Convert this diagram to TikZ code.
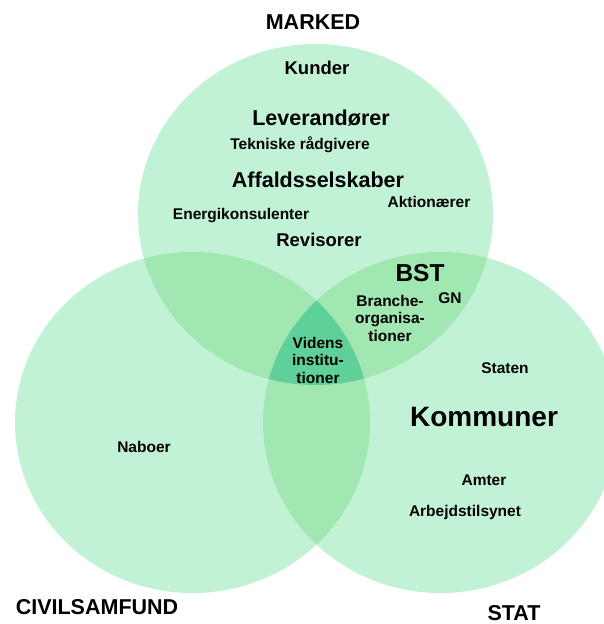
\documentclass[tikz,border=0pt]{standalone}
\usepackage{fontspec}
\setmainfont{Liberation Sans}
\begin{document}
\definecolor{one}{RGB}{193,242,214}
\definecolor{two}{RGB}{161,231,177}
\definecolor{three}{RGB}{96,208,154}
\begin{tikzpicture}[x=1pt,y=-1pt,
  lbl/.style={anchor=base,font=\bfseries\fontsize{#1}{#1}\selectfont,inner sep=0pt,align=center},
  lbl/.default=15.5,
  multi/.style={anchor=base,font=\bfseries\fontsize{15.5}{17.5}\selectfont,inner sep=0pt,align=center}]
\useasboundingbox (0,0) rectangle (604,624);
\clip (0,0) rectangle (604,624);
% three sets
\def\setM{(315.5,214.5) ellipse [x radius=177.5, y radius=170.5]}
\def\setC{(192.5,422.5) ellipse [x radius=177.5, y radius=170.5]}
\def\setS{(440.5,422.5) ellipse [x radius=177.5, y radius=170.5]}
\fill[one] \setM;
\fill[one] \setC;
\fill[one] \setS;
% pairwise overlaps
\begin{scope}\clip \setM; \fill[two] \setC; \fill[two] \setS;\end{scope}
\begin{scope}\clip \setC; \fill[two] \setS;\end{scope}
% common core
\begin{scope}\clip \setM; \clip \setC; \fill[three] \setS;\end{scope}
% set titles
\node[lbl=21.5] (marked) at (313,29) {MARKED};
\node[lbl=21.5] (civil) at (97,614) {CIVILSAMFUND};
\node[lbl=21.5] (stat) at (514,620) {STAT};
% market
\node[lbl=18.5] (kunder) at (317,74) {Kunder};
\node[lbl=21.5] (lev) at (321,125) {Leverandører};
\node[lbl] (tek) at (300,149) {Tekniske rådgivere};
\node[lbl=21.5] (affald) at (318,187) {Affaldsselskaber};
\node[lbl] (aktion) at (429,207) {Aktionærer};
\node[lbl] (energi) at (241,219) {Energikonsulenter};
\node[lbl=18.5] (revis) at (319,246) {Revisorer};
% market and state (base anchor sits on the last line)
\node[lbl=24.5] (bst) at (420,281) {BST};
\node[lbl] (gn) at (450,303) {GN};
\node[multi] (branche) at (390,341) {Branche-\\organisa-\\tioner};
% all three
\node[multi] (videns) at (318,383) {Videns\\institu-\\tioner};
% state
\node[lbl] (staten) at (505,373) {Staten};
\node[lbl=28] (kommuner) at (484,426) {Kommuner};
\node[lbl] (amter) at (484,485) {Amter};
\node[lbl] (arbejd) at (465,516) {Arbejdstilsynet};
% civil society
\node[lbl] (naboer) at (144,452) {Naboer};
\end{tikzpicture}
\end{document}
